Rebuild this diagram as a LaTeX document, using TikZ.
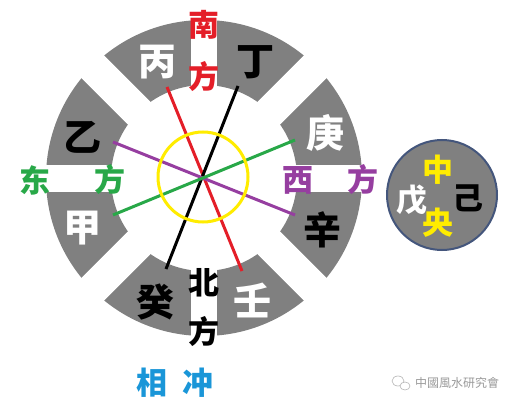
\documentclass[tikz,border=0pt]{standalone}
\usepackage{fontspec}
\newfontfamily\cjk{Noto Sans CJK SC}
\definecolor{ringgray}{RGB}{128,128,128}
\definecolor{southred}{RGB}{228,30,40}
\definecolor{eastgreen}{RGB}{40,168,72}
\definecolor{westpurple}{RGB}{150,62,160}
\definecolor{clashblue}{RGB}{26,150,216}
\definecolor{hubyellow}{RGB}{255,236,0}
\definecolor{rimblue}{RGB}{68,86,124}
\tikzset{
  stem/.style={inner sep=0pt, font=\cjk\bfseries\fontsize{38}{38}\selectfont},
  side/.style={inner sep=0pt, font=\cjk\bfseries\fontsize{31}{31}\selectfont},
  axis/.style={line width=3pt}
}
\begin{document}
\begin{tikzpicture}[x=1pt, y=-1pt]
      \useasboundingbox (0,0) rectangle (516,406);
      % ring of the eight stems
      \fill[ringgray, even odd rule] (204,178) circle (158pt) (204,178) circle (93pt);
      \foreach \ang in {45,-45}
        \fill[white, rotate around={\ang:(204,178)}] (30,162) rectangle (378,194);
      \fill[white] (191,0) rectangle (217,406);
      \fill[white] (20,165) rectangle (390,192);

      \foreach \name/\x/\y/\txt/\col in {
        bing/157/62/丙/white, ding/255/62/丁/black,
        yi/82/137/乙/black, jia/82/228/甲/white,
        geng/325/133/庚/white, xin/322/230/辛/black,
        gui/155/302/癸/black, ren/252/300/壬/white}
        \node[stem, text=\col] (\name) at (\x,\y) {\txt};

      \foreach \name/\x/\y/\txt/\col in {
        nan/204/25/南/southred, nanfang/204/77/方/southred,
        dong/35/180/东/eastgreen, dongfang/110/180/方/eastgreen,
        xi/298/180/西/westpurple, xifang/363/180/方/westpurple,
        bei/204/283/北/black, beifang/204/332/方/black}
        \node[side, text=\col] (\name) at (\x,\y) {\txt};

      % clash lines
      \coordinate (r1) at (167,87);  \coordinate (r2) at (242,271);
      \coordinate (k1) at (238,86);  \coordinate (k2) at (166,269);
      \coordinate (p1) at (113,142); \coordinate (p2) at (295,215);
      \coordinate (g1) at (113,215); \coordinate (g2) at (295,140);
      \draw[axis, southred] (r1) -- (r2);
      \draw[axis, black] (k1) -- (k2);
      \draw[axis, westpurple] (p1) -- (p2);
      \draw[axis, eastgreen] (g1) -- (g2);
      \node[circle, draw=hubyellow, line width=3pt, minimum size=90pt, inner sep=0pt] (hub) at (203,177) {};

      \node[side, text=clashblue] (xiang) at (152,383) {相};
      \node[side, text=clashblue] (chong) at (198,383) {冲};

      % centre circle
      \node[circle, draw=rimblue, fill=ringgray, line width=2pt, minimum size=110pt, inner sep=0pt] (mid) at (442,195) {};
      \node[side, text=hubyellow] (zhong) at (438,170) {中};
      \node[side, text=hubyellow] (yang) at (438,223) {央};
      \node[side, text=white] (wu) at (412,200) {戊};
      \node[side, text=black] (ji) at (468,198) {己};

      % mark
      \draw[gray!60, line width=0.6pt] (398,381) ellipse (6pt and 5pt);
      \draw[gray!60, line width=0.6pt, fill=white] (405,386) ellipse (5pt and 4pt);
      \node[inner sep=0pt, text=gray!80, font=\cjk\fontsize{12}{12}\selectfont] (mark) at (457,383) {中國風水研究會};
\end{tikzpicture}
\end{document}
